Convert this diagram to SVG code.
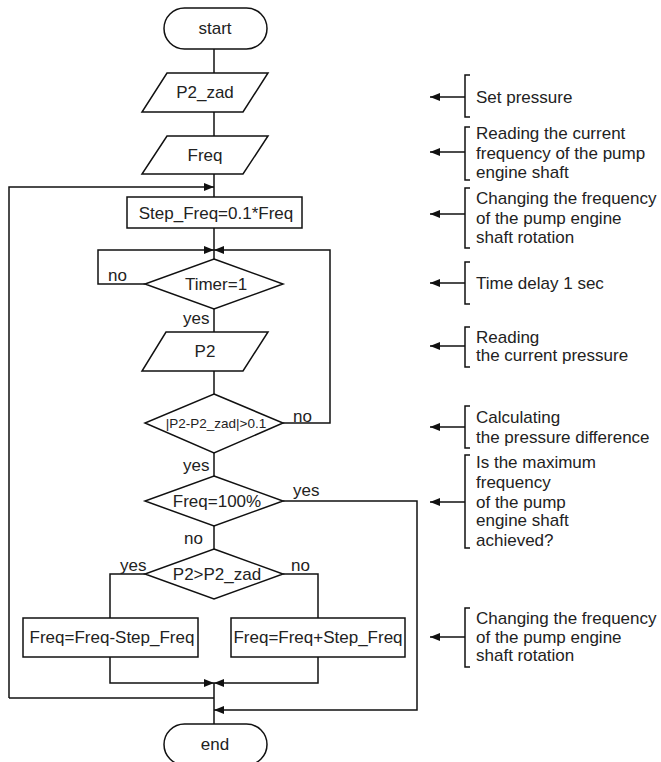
<svg xmlns="http://www.w3.org/2000/svg" width="661" height="762" viewBox="0 0 661 762">
<style>
.s{fill:#fff;stroke:#111;stroke-width:1.5}
.c{fill:none;stroke:#111;stroke-width:1.5}
.t{font-family:"Liberation Sans",Arial,sans-serif;font-size:17px;fill:#222}
.m{text-anchor:middle}
</style>
<defs>
<marker id="ah" markerWidth="10" markerHeight="8" refX="10" refY="4" orient="auto" markerUnits="userSpaceOnUse">
<path d="M0,0 L10,4 L0,8 Z" fill="#111"/>
</marker>
</defs>
<rect width="661" height="762" fill="#fff"/>
<g id="connectors">
<line class="c" x1="214" y1="49" x2="214" y2="73"/>
<line class="c" x1="214" y1="112" x2="214" y2="136"/>
<line class="c" x1="214" y1="174" x2="214" y2="197"/>
<line class="c" x1="214" y1="228" x2="214" y2="259"/>
<line class="c" x1="214" y1="309" x2="214" y2="332"/>
<line class="c" x1="214" y1="371" x2="214" y2="394"/>
<line class="c" x1="214" y1="453" x2="214" y2="476"/>
<line class="c" x1="214" y1="526" x2="214" y2="549"/>
<line class="c" x1="214" y1="683" x2="214" y2="724"/>
<polyline class="c" points="9,698 9,187 214,187" marker-end="url(#ah)"/>
<polyline class="c" points="145,284 98,284 98,250 214,250" marker-end="url(#ah)"/>
<polyline class="c" points="283,423 330,423 330,250 214,250" marker-end="url(#ah)"/>
<polyline class="c" points="283,501 417,501 417,710 214,710" marker-end="url(#ah)"/>
<polyline class="c" points="145,574 110,574 110,618"/>
<polyline class="c" points="283,574 318,574 318,618"/>
<polyline class="c" points="110,657 110,683 214,683" marker-end="url(#ah)"/>
<polyline class="c" points="318,657 318,683 214,683" marker-end="url(#ah)"/>
<polyline class="c" points="9,698 214,698"/>
<text class="t" x="108" y="281">no</text>
<text class="t" x="183" y="324">yes</text>
<text class="t" x="293" y="422">no</text>
<text class="t" x="183" y="471">yes</text>
<text class="t" x="293" y="496">yes</text>
<text class="t" x="184" y="544">no</text>
<text class="t" x="120" y="571">yes</text>
<text class="t" x="291" y="571">no</text>
</g>
<g id="start"><rect class="s" x="164" y="8" width="103" height="41" rx="20.5"/><text class="t m" x="215" y="34">start</text></g>
<g id="p2zad"><polygon class="s" points="167,73 268,73 243,112 142,112"/><text class="t m" x="205" y="98">P2_zad</text></g>
<g id="freq"><polygon class="s" points="167,136 268,136 243,174 142,174"/><text class="t m" x="205" y="161">Freq</text></g>
<g id="step"><rect class="s" x="127" y="197" width="175" height="31"/><text class="t m" x="216" y="219">Step_Freq=0.1*Freq</text></g>
<g id="timer"><polygon class="s" points="214,259 283,284 214,309 145,284"/><text class="t m" x="216" y="290">Timer=1</text></g>
<g id="p2"><polygon class="s" points="166,332 268,332 243,371 142,371"/><text class="t m" x="205" y="357">P2</text></g>
<g id="diff"><polygon class="s" points="214,394 283,423 214,453 145,423"/><text class="t m" x="216" y="428" style="font-size:13.5px">|P2-P2_zad|&gt;0.1</text></g>
<g id="freq100"><polygon class="s" points="214,476 283,501 214,526 145,501"/><text class="t m" x="217" y="507">Freq=100%</text></g>
<g id="cmp"><polygon class="s" points="214,549 283,574 214,599 145,574"/><text class="t m" x="217" y="580">P2&gt;P2_zad</text></g>
<g id="dec"><rect class="s" x="23" y="618" width="175" height="39"/><text class="t m" x="112" y="643">Freq=Freq-Step_Freq</text></g>
<g id="inc"><rect class="s" x="231" y="618" width="174" height="39"/><text class="t m" x="318" y="643">Freq=Freq+Step_Freq</text></g>
<g id="end"><rect class="s" x="164" y="724" width="103" height="41" rx="20.5"/><text class="t m" x="215" y="750">end</text></g>
<g id="annotations">
<g id="a1"><path class="c" d="M470,75 H465 V117 H470"/><line class="c" x1="465" y1="97" x2="430" y2="97" marker-end="url(#ah)"/><text class="t" x="476" y="103">Set pressure</text></g>
<g id="a2"><path class="c" d="M470,127 H465 V180 H470"/><line class="c" x1="465" y1="152" x2="430" y2="152" marker-end="url(#ah)"/><text class="t" x="476" y="139">Reading the current</text><text class="t" x="476" y="159">frequency of the pump</text><text class="t" x="476" y="178">engine shaft</text></g>
<g id="a3"><path class="c" d="M470,188 H465 V248 H470"/><line class="c" x1="465" y1="214" x2="430" y2="214" marker-end="url(#ah)"/><text class="t" x="476" y="204">Changing the frequency</text><text class="t" x="476" y="224">of the pump engine</text><text class="t" x="476" y="243">shaft rotation</text></g>
<g id="a4"><path class="c" d="M470,262 H465 V304 H470"/><line class="c" x1="465" y1="283" x2="430" y2="283" marker-end="url(#ah)"/><text class="t" x="476" y="289">Time delay 1 sec</text></g>
<g id="a5"><path class="c" d="M470,327 H465 V367 H470"/><line class="c" x1="465" y1="346" x2="430" y2="346" marker-end="url(#ah)"/><text class="t" x="476" y="343">Reading</text><text class="t" x="476" y="361">the current pressure</text></g>
<g id="a6"><path class="c" d="M470,406 H465 V448 H470"/><line class="c" x1="465" y1="427" x2="430" y2="427" marker-end="url(#ah)"/><text class="t" x="476" y="423">Calculating</text><text class="t" x="476" y="443">the pressure difference</text></g>
<g id="a7"><path class="c" d="M470,455 H465 V548 H470"/><line class="c" x1="465" y1="502" x2="430" y2="502" marker-end="url(#ah)"/><text class="t" x="476" y="468">Is the maximum</text><text class="t" x="476" y="488">frequency</text><text class="t" x="476" y="508">of the pump</text><text class="t" x="476" y="526">engine shaft</text><text class="t" x="476" y="546">achieved?</text></g>
<g id="a8"><path class="c" d="M470,608 H465 V667 H470"/><line class="c" x1="465" y1="637" x2="430" y2="637" marker-end="url(#ah)"/><text class="t" x="476" y="624">Changing the frequency</text><text class="t" x="476" y="643">of the pump engine</text><text class="t" x="476" y="661">shaft rotation</text></g>
</g>
</svg>
